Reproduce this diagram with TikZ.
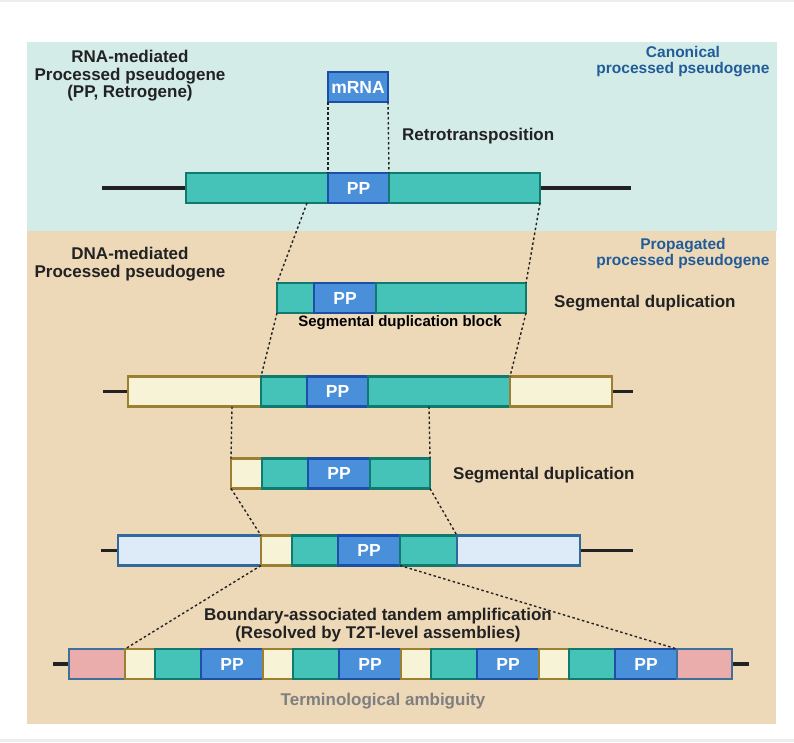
\documentclass[tikz,border=0pt]{standalone}
\usepackage{fontspec}
\setmainfont{Liberation Sans}
\usetikzlibrary{positioning}
\definecolor{toppanel}{HTML}{D3ECE8}
\definecolor{lowpanel}{HTML}{EDD8B8}
\definecolor{tealfill}{HTML}{45C3B9}
\definecolor{tealedge}{HTML}{117A6E}
\definecolor{ppfill}{HTML}{4A8FD9}
\definecolor{ppedge}{HTML}{1E4FA8}
\definecolor{creamfill}{HTML}{F6F3D7}
\definecolor{creamedge}{HTML}{9C7F31}
\definecolor{hostfill}{HTML}{DDEBF8}
\definecolor{hostedge}{HTML}{33689A}
\definecolor{pinkfill}{HTML}{EBADAC}
\definecolor{pinkedge}{HTML}{3F6F9C}
\definecolor{bluetext}{HTML}{225C98}
\definecolor{darktext}{HTML}{222222}
\definecolor{graytext}{HTML}{7F7F7F}
\tikzset
{
    seg/.style        = {anchor=west, minimum height=30, inner sep=0, outer sep=0, line width=2.6pt, text=white, font=\bfseries\fontsize{17.5}{17.5}\selectfont},
    gene/.style       = {seg, fill=tealfill, draw=tealedge},
    ppbox/.style      = {seg, fill=ppfill, draw=ppedge},
    flank/.style      = {seg, fill=creamfill, draw=creamedge},
    hostbox/.style    = {seg, fill=hostfill, draw=hostedge},
    capbox/.style     = {seg, fill=pinkfill, draw=pinkedge},
    chrom/.style      = {line width=3.2pt, draw=darktext, shorten >=1.3pt, shorten <=1pt},
    trace/.style      = {line width=1.4pt, dash pattern=on 2.5pt off 2.5pt, draw=darktext},
    panellabel/.style = {align=center, text=darktext, font=\bfseries\fontsize{17}{17.5}\selectfont},
    branchlabel/.style= {align=center, text=bluetext, font=\bfseries\fontsize{15.5}{16}\selectfont},
    steplabel/.style  = {anchor=west, inner sep=0, text=darktext, font=\bfseries\fontsize{17}{17}\selectfont},
    blocklabel/.style = {inner sep=0, text=black, font=\bfseries\fontsize{15}{15}\selectfont}
}
\begin{document}
\begin{tikzpicture}[x=1pt, y=-1pt]
    \useasboundingbox (0,0) rectangle (794,742);
    \fill[white] (0,0) rectangle (794,742);
    \fill[black!7] (0,0) rectangle (794,2);
    \fill[black!7] (0,739) rectangle (794,742);
    % panels
    \fill[toppanel] (27,42) rectangle (777,231);
    \fill[lowpanel] (27,231) rectangle (776,724);

    \node [panellabel] (rnalabel) at (130,76) {RNA-mediated\\Processed pseudogene\\(PP, Retrogene)};
    \node [panellabel] (dnalabel) at (130,264) {DNA-mediated\\Processed pseudogene};
    \node [branchlabel] (canonical) at (683,62) {Canonical\\processed pseudogene};
    \node [branchlabel] (propagated) at (683,254) {Propagated\\processed pseudogene};

    % retrotransposition
    \node [ppbox, minimum width=60] (mrna) at (328,87) {mRNA};
    \node [steplabel] (retro) at (402,136) {Retrotransposition};

    \node [gene, minimum width=142] (r1left) at (186,188) {};
    \node [ppbox, minimum width=61, right=0pt of r1left] (r1pp) {PP};
    \node [gene, minimum width=151, right=0pt of r1pp] (r1right) {};
    \coordinate (r1l) at (101,188);
    \coordinate (r1r) at (632,188);
    \draw [chrom] (r1l) -- (r1left.west);
    \draw [chrom] (r1right.east) -- (r1r);
    \draw [trace] (mrna.south west) -- (r1pp.north west);
    \draw [trace] (mrna.south east) -- (r1pp.north east);

    % segmental duplication block
    \node [gene, minimum width=37] (r2left) at (277,298) {};
    \node [ppbox, minimum width=62, right=0pt of r2left] (r2pp) {PP};
    \node [gene, minimum width=150, right=0pt of r2pp] (r2right) {};
    \node [blocklabel] (sdblock) at (400,322.5) {Segmental duplication block};
    \node [steplabel] (sdup1) at (554,303) {Segmental duplication};
    \draw [trace] ([xshift=-21pt]r1left.south east) -- (r2left.north west);
    \draw [trace] (r1right.south east) -- (r2right.north east);

    % row 3
    \node [flank, minimum width=133] (r3fl) at (128,391.5) {};
    \node [gene, minimum width=46, right=0pt of r3fl] (r3gl) {};
    \node [ppbox, minimum width=61, right=0pt of r3gl] (r3pp) {PP};
    \node [gene, minimum width=142, right=0pt of r3pp] (r3gr) {};
    \node [flank, minimum width=102, right=0pt of r3gr] (r3fr) {};
    \coordinate (r3l) at (102,391.5);
    \coordinate (r3r) at (634,391.5);
    \draw [chrom] (r3l) -- (r3fl.west);
    \draw [chrom] (r3fr.east) -- (r3r);
    \draw [trace] (r2left.south west) -- (r3gl.north west);
    \draw [trace] (r2right.south east) -- (r3gr.north east);

    % row 4
    \node [flank, minimum width=31] (r4fl) at (231,473.5) {};
    \node [gene, minimum width=46, right=0pt of r4fl] (r4gl) {};
    \node [ppbox, minimum width=62, right=0pt of r4gl] (r4pp) {PP};
    \node [gene, minimum width=60, right=0pt of r4pp] (r4gr) {};
    \node [steplabel] (sdup2) at (453,475) {Segmental duplication};
    \draw [trace] ([xshift=-29pt]r3fl.south east) -- (r4fl.north west);
    \draw [trace] ([xshift=61pt]r3gr.south west) -- (r4gr.north east);

    % row 5
    \node [hostbox, minimum width=143] (r5hl) at (118,550.5) {};
    \node [flank, minimum width=31, right=0pt of r5hl] (r5fl) {};
    \node [gene, minimum width=46, right=0pt of r5fl] (r5gl) {};
    \node [ppbox, minimum width=62, right=0pt of r5gl] (r5pp) {PP};
    \node [gene, minimum width=57, right=0pt of r5pp] (r5gr) {};
    \node [hostbox, minimum width=123, right=0pt of r5gr] (r5hr) {};
    \coordinate (r5l) at (100,550.5);
    \coordinate (r5r) at (634,550.5);
    \draw [chrom] (r5l) -- (r5hl.west);
    \draw [chrom] (r5hr.east) -- (r5r);
    \draw [trace] (r4fl.south west) -- (r5fl.north west);
    \draw [trace] (r4gr.south east) -- (r5gr.north east);

    % tandem amplification
    \node [panellabel] (tandem) at (378,625) {Boundary-associated tandem amplification\\(Resolved by T2T-level assemblies)};
    \node [capbox, minimum width=56] (r6capl) at (69,664) {};
    \node [flank, minimum width=30, right=0pt of r6capl] (r6fa) {};
    \node [gene, minimum width=46, right=0pt of r6fa] (r6ga) {};
    \node [ppbox, minimum width=62, right=0pt of r6ga] (r6ppa) {PP};
    \node [flank, minimum width=30, right=0pt of r6ppa] (r6fb) {};
    \node [gene, minimum width=46, right=0pt of r6fb] (r6gb) {};
    \node [ppbox, minimum width=62, right=0pt of r6gb] (r6ppb) {PP};
    \node [flank, minimum width=30, right=0pt of r6ppb] (r6fc) {};
    \node [gene, minimum width=46, right=0pt of r6fc] (r6gc) {};
    \node [ppbox, minimum width=62, right=0pt of r6gc] (r6ppc) {PP};
    \node [flank, minimum width=30, right=0pt of r6ppc] (r6fd) {};
    \node [gene, minimum width=46, right=0pt of r6fd] (r6gd) {};
    \node [ppbox, minimum width=62, right=0pt of r6gd] (r6ppd) {PP};
    \node [capbox, minimum width=55, right=0pt of r6ppd] (r6capr) {};
    \coordinate (r6l) at (52,664);
    \coordinate (r6r) at (750,664);
    \draw [chrom] (r6l) -- (r6capl.west);
    \draw [chrom] (r6capr.east) -- (r6r);
    \draw [trace] (r5fl.south west) -- (r6fa.north west);
    \draw [trace] (r5pp.south east) -- (r6ppd.north east);

    \node [panellabel, text=graytext] (ambiguity) at (383,701) {Terminological ambiguity};
\end{tikzpicture}
\end{document}
